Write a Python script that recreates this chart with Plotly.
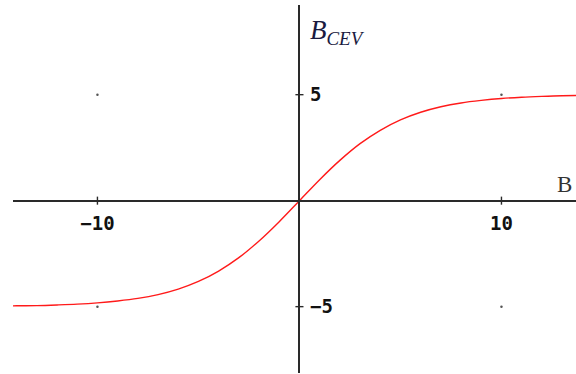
import plotly.graph_objects as go

# Curve samples: field B versus B_CEV
b_values = [-15, -14, -13, -12, -11, -10, -9, -8, -7, -6, -5, -4, -3, -2, -1,
            0, 1, 2, 3, 4, 5, 6, 7, 8, 9, 10, 11, 12, 13, 14]
bcev_values = [-4.98, -4.96, -4.95, -4.92, -4.88, -4.82, -4.73, -4.61, -4.43, -4.17, -3.81,
               -3.32, -2.69, -1.90, -0.99,
               0.0, 0.99, 1.90, 2.69, 3.32, 3.81, 4.17, 4.43, 4.61, 4.73, 4.82,
               4.88, 4.92, 4.95, 4.96]

# Axis ticks
x_ticks = [-10, 10]
x_tick_text = ["\u221210", "10"]
y_ticks = [-5, 5]
y_tick_text = ["\u22125", "5"]

# Grid dots at tick intersections
dot_x = [-10, 10, -10, 10]
dot_y = [5, 5, -5, -5]

X_RANGE = [-14.18, 13.69]
Y_RANGE = [-8.13, 9.23]
AXIS_COLOR = "#2a2a2a"

fig = go.Figure()

fig.add_trace(go.Scatter(
    x=dot_x, y=dot_y, mode="markers",
    marker=dict(size=2.5, color="#555555"),
    hoverinfo="skip", showlegend=False,
))

fig.add_trace(go.Scatter(
    x=b_values, y=bcev_values, mode="lines",
    line=dict(color="#ff1a1a", width=1.4, shape="spline"),
    showlegend=False,
))

y0_frac = (0 - Y_RANGE[0]) / (Y_RANGE[1] - Y_RANGE[0])
x0_frac = (0 - X_RANGE[0]) / (X_RANGE[1] - X_RANGE[0])

tick_font = dict(family="DejaVu Sans Mono", size=19, color="#111111", weight="bold")

fig.update_layout(
    width=576, height=374,
    margin=dict(l=13, r=0, t=5, b=1),
    paper_bgcolor="white", plot_bgcolor="white",
    xaxis=dict(
        range=X_RANGE, anchor="free", position=y0_frac,
        showline=True, linecolor=AXIS_COLOR, linewidth=1.6,
        showgrid=False, zeroline=False,
        tickmode="array", tickvals=x_ticks, ticktext=x_tick_text,
        ticks="", tickfont=tick_font, ticklabelstandoff=6,
    ),
    yaxis=dict(
        range=Y_RANGE, anchor="free", position=x0_frac, side="right",
        showline=True, linecolor=AXIS_COLOR, linewidth=1.6,
        showgrid=False, zeroline=False,
        tickmode="array", tickvals=y_ticks, ticktext=y_tick_text,
        ticks="", tickfont=tick_font, ticklabelstandoff=6,
    ),
)

# Tick marks crossing the axes
for xv in x_ticks:
    fig.add_shape(type="line", xref="x", yref="y", x0=xv, x1=xv, y0=-0.19, y1=0.19,
                  line=dict(color=AXIS_COLOR, width=1.4))
for yv in y_ticks:
    fig.add_shape(type="line", xref="x", yref="y", x0=-0.2, x1=0.2, y0=yv, y1=yv,
                  line=dict(color=AXIS_COLOR, width=1.4))

# Axis titles
fig.add_annotation(x=13.14, y=0.74, xref="x", yref="y", text="B", showarrow=False,
                   font=dict(family="Liberation Serif", size=23, color="#333333"))
fig.add_annotation(x=1.9, y=7.96, xref="x", yref="y",
                   text="<i>B</i><sub><i>CEV</i></sub>", showarrow=False,
                   font=dict(family="Liberation Serif", size=27, color="#1a1a40"))

fig.write_html("out.html")
